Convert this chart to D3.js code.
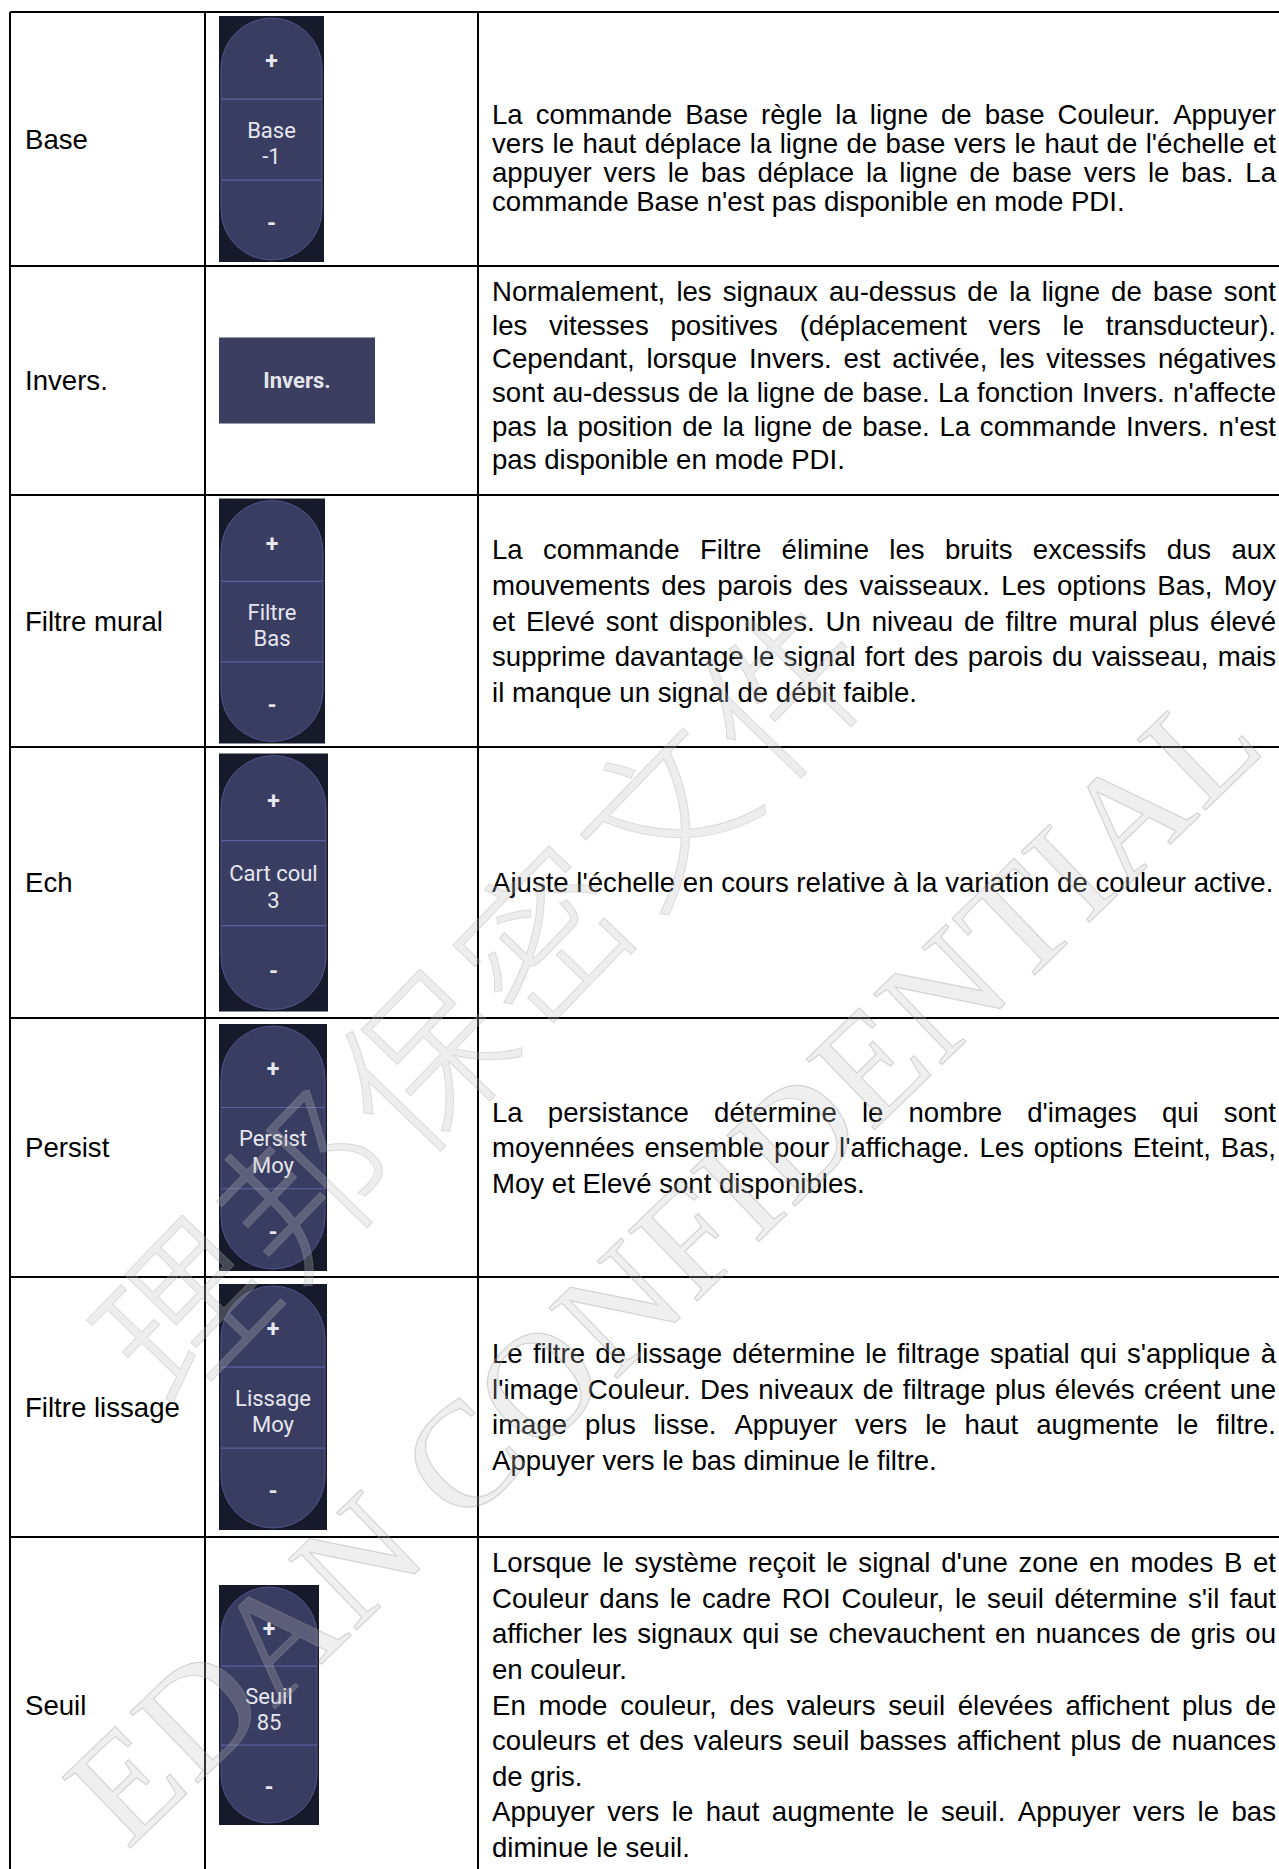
<!DOCTYPE html>
<html><head><meta charset="utf-8">
<script src="https://cdn.jsdelivr.net/npm/d3@7"></script>
<style>body{margin:0;background:#fff;overflow:hidden}</style>
</head><body><svg id="c" width="1279" height="1869"></svg>
<script>
// ---------------- data ----------------
const labels = ["Base", "Invers.", "Filtre mural", "Ech", "Persist", "Filtre lissage", "Seuil"];
const controlKinds = ["stepper", "button", "stepper", "stepper", "stepper", "stepper", "stepper"];
const controlNames = ["Base", "Invers.", "Filtre", "Cart coul", "Persist", "Lissage", "Seuil"];
const controlValues = ["-1", "", "Bas", "3", "Moy", "Moy", "85"];
const descBase = [[
  "La commande Base règle la ligne de base Couleur. Appuyer",
  "vers le haut déplace la ligne de base vers le haut de l'échelle et",
  "appuyer vers le bas déplace la ligne de base vers le bas. La",
  "commande Base n'est pas disponible en mode PDI."]];
const descInvers = [[
  "Normalement, les signaux au-dessus de la ligne de base sont",
  "les vitesses positives (déplacement vers le transducteur).",
  "Cependant, lorsque Invers. est activée, les vitesses négatives",
  "sont au-dessus de la ligne de base. La fonction Invers. n'affecte",
  "pas la position de la ligne de base. La commande Invers. n'est",
  "pas disponible en mode PDI."]];
const descFiltre = [[
  "La commande Filtre élimine les bruits excessifs dus aux",
  "mouvements des parois des vaisseaux. Les options Bas, Moy",
  "et Elevé sont disponibles. Un niveau de filtre mural plus élevé",
  "supprime davantage le signal fort des parois du vaisseau, mais",
  "il manque un signal de débit faible."]];
const descEch = [[
  "Ajuste l'échelle en cours relative à la variation de couleur active."]];
const descPersist = [[
  "La persistance détermine le nombre d'images qui sont",
  "moyennées ensemble pour l'affichage. Les options Eteint, Bas,",
  "Moy et Elevé sont disponibles."]];
const descLissage = [[
  "Le filtre de lissage détermine le filtrage spatial qui s'applique à",
  "l'image Couleur. Des niveaux de filtrage plus élevés créent une",
  "image plus lisse. Appuyer vers le haut augmente le filtre.",
  "Appuyer vers le bas diminue le filtre."]];
const descSeuil = [[
  "Lorsque le système reçoit le signal d'une zone en modes B et",
  "Couleur dans le cadre ROI Couleur, le seuil détermine s'il faut",
  "afficher les signaux qui se chevauchent en nuances de gris ou",
  "en couleur."],[
  "En mode couleur, des valeurs seuil élevées affichent plus de",
  "couleurs et des valeurs seuil basses affichent plus de nuances",
  "de gris."],[
  "Appuyer vers le haut augmente le seuil. Appuyer vers le bas",
  "diminue le seuil."]];
const descriptions = [descBase, descInvers, descFiltre, descEch, descPersist, descLissage, descSeuil];
const watermarkCN = "理邦保密文件";
const watermarkEN = "EDAN CONFIDENTIAL";

// ---------------- layout ----------------
const W = 1279, H = 1869;
const tableTop = 12;
const rowHeights = [254, 229, 252, 271, 259, 260, 336];
const colEdges = [10, 205, 478, 1282];
const widgetW = [105, 156, 106, 109, 108, 108, 100];
const widgetH = [246, 86, 245, 258, 247, 246, 240];
const widgetLeft = 219;
const textFont = "'Liberation Sans', Arial, sans-serif";
const textSize = 27.6;
const lineSteps = [29, 33.6, 35.6, 35.6, 35.6, 35.6, 35.6];
const blockShift = [19, -5, 0, 0, 0, 0, 0];
const descLeft = 492, descWidth = 784;

const svg = d3.select("#c");
svg.append("rect").attr("width", W).attr("height", H).attr("fill", "#fff");

const edges = [tableTop, ...Array.from(d3.cumsum(rowHeights), v => v + tableTop)];
const rowIdx = d3.range(labels.length);
const yMid = d3.scaleOrdinal().domain(rowIdx).range(rowIdx.map(i => (edges[i] + edges[i + 1]) / 2));

// measuring helper
const meas = svg.append("text").attr("font-family", textFont).attr("font-size", textSize)
  .attr("x", 600).attr("y", 600).attr("opacity", 0);
function tw(s) { meas.text(s); return meas.node().getComputedTextLength(); }
const spaceW = tw("a a") - tw("aa");

// ---------------- labels ----------------
const gLab = svg.append("g");
rowIdx.forEach(i => {
  gLab.append("text")
    .attr("x", 25).attr("y", yMid(i))
    .attr("dy", "0.35em")
    .attr("font-family", textFont).attr("font-size", textSize).attr("fill", "#000")
    .text(labels[i]);
});

// ---------------- descriptions ----------------
const gDesc = svg.append("g");
rowIdx.forEach(i => {
  const paras = descriptions[i];
  const lines = paras.flatMap(p => p.map((l, li) => ({ text: l, last: li === p.length - 1 })));
  const step = lineSteps[i];
  const y0 = yMid(i) + blockShift[i] - (lines.length - 1) * step / 2;
  lines.forEach((ln, k) => {
    const words = ln.text.split(" ");
    const ws = words.map(tw);
    const gap = (ln.last || words.length < 2) ? spaceW : (descWidth - d3.sum(ws)) / (words.length - 1);
    const t = gDesc.append("text")
      .attr("y", y0 + k * step).attr("dy", "0.35em")
      .attr("font-family", textFont).attr("font-size", textSize).attr("fill", "#000");
    let x = descLeft;
    words.forEach((w, wi) => {
      t.append("tspan").attr("x", x).text(w);
      x += ws[wi] + gap;
    });
  });
});
meas.remove();

// ---------------- controls ----------------
const gCtl = svg.append("g");
const wFont = "Roboto, 'Noto Sans', sans-serif";
rowIdx.forEach(i => {
  const w = widgetW[i], h = widgetH[i];
  const x0 = widgetLeft, y0 = yMid(i) - h / 2;
  const g = gCtl.append("g").attr("transform", `translate(${x0},${y0})`);
  if (controlKinds[i] === "button") {
    g.append("rect").attr("width", w).attr("height", h).attr("fill", "#3b3e61");
    g.append("text").attr("x", w / 2).attr("y", h / 2).attr("dy", "0.36em")
      .attr("text-anchor", "middle").attr("font-family", wFont).attr("font-size", 22)
      .attr("font-weight", 700).attr("fill", "#e4e4ec").text(controlNames[i]);
    return;
  }
  g.append("rect").attr("width", w).attr("height", h).attr("fill", "#171a2a");
  const r = (w - 4) / 2;
  g.append("rect").attr("x", 2).attr("y", 2).attr("width", w - 4).attr("height", h - 4)
    .attr("rx", r).attr("ry", r).attr("fill", "#3a3d62").attr("stroke", "#50548a").attr("stroke-width", 1);
  const fy = d3.scaleLinear().domain([0, 1]).range([0, h]);
  [0.338, 0.667].forEach(f => {
    g.append("line").attr("x1", 2).attr("x2", w - 2).attr("y1", fy(f)).attr("y2", fy(f))
      .attr("stroke", "#5a60a0").attr("stroke-width", 1.2);
  });
  const addT = (txt, f, size, weight) => g.append("text")
    .attr("x", w / 2).attr("y", fy(f))
    .attr("dy", "0.36em").attr("text-anchor", "middle")
    .attr("font-family", wFont).attr("font-size", size).attr("font-weight", weight)
    .attr("fill", "#e6e6ee").text(txt);
  addT("+", 0.183, 23, 700);
  addT("-", 0.842, 23, 700);
  addT(controlNames[i], 0.462, 22, 400);
  addT(controlValues[i], 0.57, 22, 400);
});

// ---------------- grid lines ----------------
const gGrid = svg.append("g").attr("stroke", "#000").attr("stroke-width", 2);
edges.forEach(y => gGrid.append("line").attr("x1", colEdges[0]).attr("x2", colEdges[3]).attr("y1", y).attr("y2", y));
colEdges.forEach(x => gGrid.append("line").attr("x1", x).attr("x2", x).attr("y1", edges[0]).attr("y2", edges[edges.length - 1]));

// ---------------- watermark ----------------
const gWm = svg.append("g").attr("pointer-events", "none");
gWm.append("text").attr("transform", "translate(490,1000) rotate(-46)")
  .attr("text-anchor", "middle").attr("dy", "0.35em")
  .attr("font-family", "'Noto Sans CJK SC', sans-serif").attr("font-weight", 300)
  .attr("font-size", 165).attr("letter-spacing", 8)
  .attr("fill", "rgba(190,190,190,0.28)").attr("stroke", "rgba(160,160,160,0.3)").attr("stroke-width", 1)
  .text(watermarkCN);
gWm.append("text").attr("transform", "translate(662,1262) rotate(-44)")
  .attr("text-anchor", "middle").attr("dy", "0.35em")
  .attr("font-family", "'Liberation Serif', 'DejaVu Serif', serif")
  .attr("font-size", 150).attr("letter-spacing", 2)
  .attr("fill", "rgba(190,190,190,0.25)").attr("stroke", "rgba(150,150,150,0.35)").attr("stroke-width", 1.2)
  .text(watermarkEN);
</script></body></html>
